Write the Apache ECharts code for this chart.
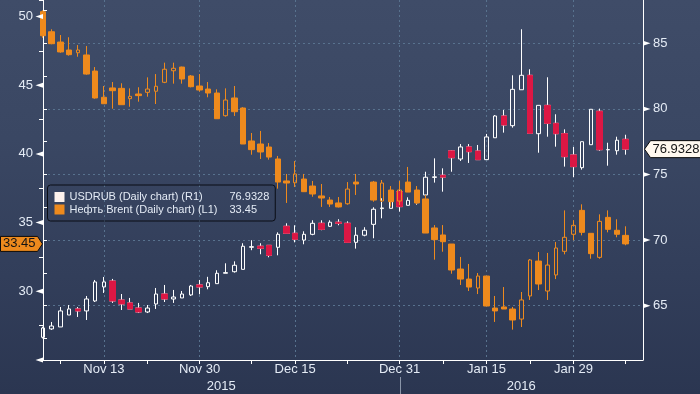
<!DOCTYPE html>
<html><head><meta charset="utf-8">
<script src="https://cdn.jsdelivr.net/npm/echarts@6/dist/echarts.min.js"></script>
<style>
html,body{margin:0;padding:0;background:#2b3651;}
#c{width:700px;height:394px;background:linear-gradient(180deg,#3f4c68 0%,#3a4763 35%,#323e5a 70%,#2b3651 100%);}
</style>
</head><body><div id="c"></div>
<script>
// ---------- DATA ----------
const dates = [
 '2015-11-04','2015-11-05','2015-11-06','2015-11-09','2015-11-10','2015-11-11','2015-11-12','2015-11-13',
 '2015-11-16','2015-11-17','2015-11-18','2015-11-19','2015-11-20','2015-11-23','2015-11-24','2015-11-25',
 '2015-11-26','2015-11-27','2015-11-30','2015-12-01','2015-12-02','2015-12-03','2015-12-04','2015-12-07',
 '2015-12-08','2015-12-09','2015-12-10','2015-12-11','2015-12-14','2015-12-15','2015-12-16','2015-12-17',
 '2015-12-18','2015-12-21','2015-12-22','2015-12-23','2015-12-24','2015-12-25','2015-12-28','2015-12-29',
 '2015-12-30','2015-12-31','2016-01-04','2016-01-05','2016-01-06','2016-01-07','2016-01-08','2016-01-11',
 '2016-01-12','2016-01-13','2016-01-14','2016-01-15','2016-01-18','2016-01-19','2016-01-20','2016-01-21',
 '2016-01-22','2016-01-25','2016-01-26','2016-01-27','2016-01-28','2016-01-29','2016-02-01','2016-02-02',
 '2016-02-03','2016-02-04','2016-02-05','2016-02-08'];
const padDates = ['2016-02-09','2016-02-10'];

// Brent: [open, high, low, close]  (null = no trading)
const brentOHLC = [
 [50.35,50.45,48.45,48.60],[48.89,49.07,47.98,48.02],[48.14,48.65,47.36,47.42],[47.56,48.49,47.15,47.22],
 [47.36,47.92,47.07,47.56],[47.20,47.85,45.76,45.81],[46.03,46.32,44.02,44.07],[44.12,44.94,43.65,43.65],
 [44.80,45.23,43.29,44.60],[44.77,45.14,43.58,43.58],[44.02,44.77,43.43,44.19],[44.36,44.85,43.80,44.24],
 [44.48,45.57,44.16,44.72],[44.56,45.81,43.63,44.92],[45.21,46.64,45.15,46.16],[46.05,46.64,45.11,46.23],
 [46.32,46.35,45.11,45.45],[45.67,45.74,44.84,44.89],[44.94,45.81,44.53,44.65],[44.72,45.23,44.12,44.43],
 [44.43,44.70,42.56,42.56],[42.78,44.77,42.71,43.92],[44.07,44.94,42.76,43.07],[43.34,43.40,40.72,40.72],
 [40.94,41.52,39.94,40.31],[40.72,41.67,39.63,40.14],[40.50,40.79,39.58,39.77],[39.63,39.85,37.47,37.95],
 [38.03,38.54,36.43,37.88],[37.90,39.48,37.59,38.54],[38.17,38.54,37.25,37.25],[37.66,38.03,36.88,37.08],
 [36.94,37.81,36.14,36.79],[36.64,36.86,36.14,36.35],[36.43,36.86,36.10,36.14],[36.37,37.95,36.30,37.44],
 [37.95,38.54,37.01,37.81],null,[37.95,38.03,36.52,36.64],[36.57,38.10,36.50,37.88],
 [37.37,37.66,36.16,36.52],[36.57,38.03,36.28,37.37],[37.95,39.05,37.22,37.22],[37.37,37.66,36.35,36.43],
 [36.72,37.01,34.24,34.24],[34.61,34.82,32.30,33.76],[34.10,34.82,32.88,33.61],[33.44,33.44,31.28,31.55],
 [31.62,32.50,30.46,30.89],[30.89,31.99,30.02,30.31],[30.24,31.33,29.80,31.11],[31.11,31.11,28.93,28.93],
 [28.78,29.66,27.77,28.57],[28.86,30.31,28.71,28.71],[28.71,28.86,27.21,27.91],[27.98,29.95,27.40,29.37],
 [29.66,32.35,29.37,32.28],[32.20,32.86,30.09,30.53],[30.02,32.79,29.37,31.91],[31.19,33.59,30.89,33.15],
 [32.91,35.89,32.69,33.93],[34.15,35.17,33.71,34.80],[35.89,36.33,34.07,34.29],[34.22,34.22,32.37,32.74],
 [32.47,35.60,32.37,35.09],[35.38,35.89,34.29,34.51],[34.44,35.24,33.93,34.15],[34.07,34.73,33.35,33.45]];

// USDRUB: [open, high, low, close]
const rubOHLC = [
 [62.59,63.40,62.50,63.30],[63.23,63.76,63.15,63.45],[63.38,64.90,63.38,64.60],[64.29,65.05,64.29,64.75],
 [64.75,64.90,64.14,64.60],[64.60,65.74,63.91,65.51],[65.36,66.96,65.28,66.81],[66.43,67.19,65.97,66.81],
 [66.88,67.04,65.21,65.36],[65.43,65.89,64.67,65.13],[65.21,65.59,64.75,64.75],[64.82,65.21,64.44,64.52],
 [64.52,65.05,64.44,64.82],[65.13,66.35,64.75,65.89],[65.89,66.58,65.28,65.51],[65.51,66.20,65.21,65.66],
 [65.59,66.12,65.59,65.89],[65.82,66.58,65.74,66.50],[66.58,66.96,65.87,66.43],[66.45,67.20,66.25,66.75],
 [66.68,67.70,66.68,67.47],[67.47,68.23,67.47,67.52],[67.59,68.38,67.52,68.08],[67.77,69.76,67.77,69.53],
 [69.45,69.99,69.23,69.50],[69.53,69.76,68.92,69.38],[69.60,69.60,68.69,68.84],[69.45,70.59,68.84,70.44],
 [71.05,71.28,70.52,70.52],[70.52,71.13,69.83,70.06],[70.00,70.67,69.68,70.44],[70.44,71.51,70.37,71.28],
 [71.28,71.51,70.75,70.82],[71.05,71.51,71.00,71.36],[71.36,71.59,71.13,71.28],[71.28,71.43,69.83,69.83],
 [69.83,70.98,69.35,70.37],[70.37,70.98,70.29,70.75],[71.20,72.50,70.14,72.35],[72.40,73.19,71.66,72.45],
 [72.42,73.26,72.42,72.96],[73.70,73.82,72.17,72.55],[72.65,73.26,72.65,73.03],[72.85,73.80,72.70,73.45],
 [73.44,75.21,73.30,74.79],[74.78,76.23,74.38,74.82],[74.94,75.47,73.69,74.80],[76.80,76.85,75.21,76.28],
 [76.18,77.32,76.03,77.10],[77.10,77.32,75.88,76.74],[76.79,77.25,76.13,76.13],[76.13,78.09,76.13,77.86],
 [77.80,79.53,77.80,79.46],[79.46,79.92,78.19,78.77],[78.72,82.56,78.57,81.49],[81.46,86.07,81.46,82.56],
 [82.56,83.02,78.14,78.14],[78.11,80.27,76.66,80.27],[80.27,82.41,77.88,78.90],[78.90,79.59,77.12,78.11],
 [78.11,78.44,75.60,76.36],[76.49,77.10,74.79,75.60],[75.52,77.50,75.37,77.50],[77.27,79.97,77.27,79.97],
 [79.82,80.02,76.81,76.89],[76.88,77.42,75.67,76.90],[76.81,77.88,76.51,77.61],[77.68,78.03,76.51,76.9328]];

const tickDates  = ['2015-11-06','2015-11-13','2015-11-20','2015-11-30','2015-12-08','2015-12-15','2015-12-23',
                    '2015-12-31','2016-01-08','2016-01-15','2016-01-22','2016-01-29','2016-02-08'];
const labelDates = ['2015-11-13','2015-11-30','2015-12-15','2015-12-31','2016-01-15','2016-01-29'];
const yearLabels = ['2015','2016'];
const yearBreak  = '2015-12-31';

const brentRange  = [25, 51.2];
const brentLabels = [30, 35, 40, 45, 50];
const brentArrows = [25, 30, 35, 40, 45, 50];
const rubRange    = [60.86, 88.3];
const rubLabels   = [65, 70, 75, 80, 85];
const rubTicks    = [62.5, 87.5];   // first/last tick on right axis
const rubGrid     = [65, 85];       // horizontal dashed grid lines span

const RUB_NAME   = 'USDRUB (Daily chart) (R1)';
const BRENT_NAME = 'Нефть Brent (Daily chart) (L1)';

// ---------- STYLE ----------
const ORANGE = '#ee8a1d', RED = '#dc1744', WHITE = '#ffffff';
const LABEL = '#e4ebf5', GRIDC = '#58728e';
const FONT = '"Liberation Sans", Arial, sans-serif';
const GL = 43, GR = 57, GT = 0, GB = 34, W = 700, H = 394;
const PH = H - GT - GB;

const cats = dates.concat(padDates);
const NA = ['-','-','-','-'];
function pick(rows, up) {
  return rows.map(r => {
    if (!r) return NA;
    const [o,h,l,c] = r;
    return ((c >= o) === up) ? [o, c, l, h] : NA;
  });
}
function bodyOnly(rows) {
  return rows.map(r => {
    if (!r) return NA;
    const [o,h,l,c] = r;
    return (c < o) ? [o, c, c, o] : NA;
  });
}
const MONTHS = ['Jan','Feb','Mar','Apr','May','Jun','Jul','Aug','Sep','Oct','Nov','Dec'];
const fmtDate = s => { const p = s.split('-'); return MONTHS[+p[1]-1] + ' ' + (+p[2]); };
const rubY = v => GT + (rubRange[1] - v) * PH / (rubRange[1] - rubRange[0]);

const brentLast = brentOHLC[brentOHLC.length-1][3];
const rubLast = rubOHLC[rubOHLC.length-1][3];
const legendVals = {}; legendVals[RUB_NAME] = rubLast.toFixed(4); legendVals[BRENT_NAME] = brentLast.toFixed(2);

const lblStyle = {color: LABEL, fontSize: 13, fontFamily: FONT};

const chart = echarts.init(document.getElementById('c'), null, {renderer: 'canvas'});
const option = {
  animation: false,
  backgroundColor: 'transparent',
  grid: [
    {left: GL, right: GR, top: GT, bottom: GB},
    {left: GL, right: GR, top: rubY(rubTicks[1]), height: rubY(rubTicks[0]) - rubY(rubTicks[1])},
    {left: GL, right: GR, top: rubY(rubGrid[1]), height: rubY(rubGrid[0]) - rubY(rubGrid[1])}
  ],
  xAxis: [
    {type: 'category', gridIndex: 0, data: cats, boundaryGap: false,
     axisLine: {onZero: false, lineStyle: {color: WHITE, width: 1}},
     axisTick: {show: true, length: 4, interval: (i, v) => tickDates.includes(v), lineStyle: {color: WHITE}},
     axisLabel: Object.assign({interval: (i, v) => labelDates.includes(v), formatter: fmtDate, margin: 3}, lblStyle),
     splitLine: {show: true, interval: (i, v) => labelDates.includes(v), lineStyle: {color: GRIDC, type: [2, 3], width: 1}}},
    {type: 'value', gridIndex: 1, min: 0, max: 1, show: false},
    {type: 'value', gridIndex: 2, min: 0, max: 1, show: false}
  ],
  yAxis: [
    {type: 'value', gridIndex: 0, position: 'left', min: brentRange[0], max: brentRange[1], interval: 2.5,
     axisLine: {show: true, onZero: false, lineStyle: {color: WHITE}},
     axisTick: {show: true, length: 4, lineStyle: {color: WHITE}},
     axisLabel: Object.assign({margin: 10, formatter: v => brentLabels.includes(v) ? String(v) : ''}, lblStyle),
     splitLine: {show: false}},
    {type: 'value', gridIndex: 0, position: 'right', min: rubRange[0], max: rubRange[1],
     axisLine: {show: true, onZero: false, lineStyle: {color: WHITE}},
     axisTick: {show: false}, axisLabel: {show: false}, splitLine: {show: false}},
    {type: 'value', gridIndex: 1, position: 'right', min: rubTicks[0], max: rubTicks[1], interval: 2.5,
     axisLine: {show: false}, axisTick: {show: true, length: 4, lineStyle: {color: WHITE}},
     axisLabel: Object.assign({margin: 10, formatter: v => rubLabels.includes(v) ? String(v) : ''}, lblStyle),
     splitLine: {show: false}},
    {type: 'value', gridIndex: 2, position: 'right', min: rubGrid[0], max: rubGrid[1], interval: 5,
     axisLine: {show: false}, axisTick: {show: false}, axisLabel: {show: false},
     splitLine: {show: true, lineStyle: {color: GRIDC, type: [2, 3], width: 1}}}
  ],
  legend: {
    orient: 'vertical', left: 47.5, top: 185, padding: [6.5, 6, 6, 7], itemGap: 1.5,
    itemWidth: 10, itemHeight: 10, selectedMode: false,
    borderColor: '#0a0d15', borderWidth: 1, borderRadius: 3, backgroundColor: 'transparent',
    data: [
      {name: RUB_NAME, icon: 'rect', itemStyle: {color: '#fdf1ec', borderWidth: 0}},
      {name: BRENT_NAME, icon: 'rect', itemStyle: {color: ORANGE, borderWidth: 0}}
    ],
    formatter: name => '{n|' + name + '}{v|' + legendVals[name] + '}',
    textStyle: {color: LABEL, fontSize: 11, fontFamily: FONT,
      rich: {n: {width: 160, color: LABEL, fontSize: 11, fontFamily: FONT, lineHeight: 12},
             v: {color: LABEL, fontSize: 11, fontFamily: FONT, lineHeight: 12}}}
  },
  series: [
    {name: RUB_NAME, type: 'candlestick', xAxisIndex: 0, yAxisIndex: 1, barWidth: 4, silent: true,
     data: pick(rubOHLC, true),
     itemStyle: {color: 'rgba(0,0,0,0)', borderColor: WHITE, color0: 'rgba(0,0,0,0)', borderColor0: WHITE, borderWidth: 1}},
    {name: 'rubDownWick', type: 'candlestick', xAxisIndex: 0, yAxisIndex: 1, barWidth: 6, silent: true,
     data: pick(rubOHLC, false),
     itemStyle: {color: RED, borderColor: WHITE, color0: RED, borderColor0: WHITE, borderWidth: 1}},
    {name: 'rubDownBody', type: 'candlestick', xAxisIndex: 0, yAxisIndex: 1, barWidth: 6, silent: true,
     data: bodyOnly(rubOHLC),
     itemStyle: {color: RED, borderColor: RED, color0: RED, borderColor0: RED, borderWidth: 1}},
    {name: 'brentUp', type: 'candlestick', xAxisIndex: 0, yAxisIndex: 0, barWidth: 4, silent: true,
     data: pick(brentOHLC, true),
     itemStyle: {color: 'rgba(0,0,0,0)', borderColor: ORANGE, color0: 'rgba(0,0,0,0)', borderColor0: ORANGE, borderWidth: 1}},
    {name: BRENT_NAME, type: 'candlestick', xAxisIndex: 0, yAxisIndex: 0, barWidth: 6, silent: true,
     data: pick(brentOHLC, false),
     itemStyle: {color: ORANGE, borderColor: ORANGE, color0: ORANGE, borderColor0: ORANGE, borderWidth: 1}}
  ]
};
chart.setOption(option);

// ---------- axis markers, value tags, year labels ----------
const els = [];
brentArrows.forEach(v => {
  const y = chart.convertToPixel({yAxisIndex: 0}, v);
  els.push({type: 'polygon', z: 100, silent: true, shape: {points: [[GL, y - 2.5], [GL, y + 2.5], [GL - 7.5, y]]}, style: {fill: WHITE}});
});
const xR = W - GR;
rubLabels.forEach(v => {
  const y = chart.convertToPixel({yAxisIndex: 1}, v);
  els.push({type: 'polygon', z: 100, silent: true, shape: {points: [[xR, y - 2.5], [xR, y + 2.5], [xR + 7.5, y]]}, style: {fill: WHITE}});
});
const yB = chart.convertToPixel({yAxisIndex: 0}, brentLast);
els.push({type: 'polygon', z: 110, silent: true,
  shape: {points: [[0.5, yB - 7.5], [37.5, yB - 7.5], [42.5, yB], [37.5, yB + 7.5], [0.5, yB + 7.5]]},
  style: {fill: ORANGE, stroke: '#0b0b0b', lineWidth: 1}});
els.push({type: 'text', z: 111, silent: true, x: 3, y: yB,
  style: {text: brentLast.toFixed(2), font: '13px ' + FONT, fill: '#141414', verticalAlign: 'middle', textVerticalAlign: 'middle'}});
const yR = chart.convertToPixel({yAxisIndex: 1}, rubLast);
els.push({type: 'polygon', z: 110, silent: true,
  shape: {points: [[xR + 1.5, yR], [xR + 7.5, yR - 8.5], [W + 2, yR - 8.5], [W + 2, yR + 8.5], [xR + 7.5, yR + 8.5]]},
  style: {fill: '#fff8ee', stroke: '#0b0b0b', lineWidth: 1}});
els.push({type: 'text', z: 111, silent: true, x: xR + 9.5, y: yR,
  style: {text: rubLast.toFixed(4), font: '13px ' + FONT, fill: '#141414', verticalAlign: 'middle', textVerticalAlign: 'middle'}});
const xBreak = chart.convertToPixel({xAxisIndex: 0}, dates.indexOf(yearBreak));
els.push({type: 'line', z: 100, silent: true, shape: {x1: Math.round(xBreak) + 0.5, y1: H - GB + 17, x2: Math.round(xBreak) + 0.5, y2: H},
  style: {stroke: '#8a95a8', lineWidth: 1}});
[[GL, xBreak], [xBreak, W - GR]].forEach((seg, k) => {
  els.push({type: 'text', z: 100, silent: true, x: (seg[0] + seg[1]) / 2, y: H - GB + 26.5,
    style: {text: yearLabels[k], font: '13px ' + FONT, fill: LABEL, align: 'center', textAlign: 'center', verticalAlign: 'middle', textVerticalAlign: 'middle'}});
});
chart.setOption({graphic: {elements: els}});
</script>
</body></html>
